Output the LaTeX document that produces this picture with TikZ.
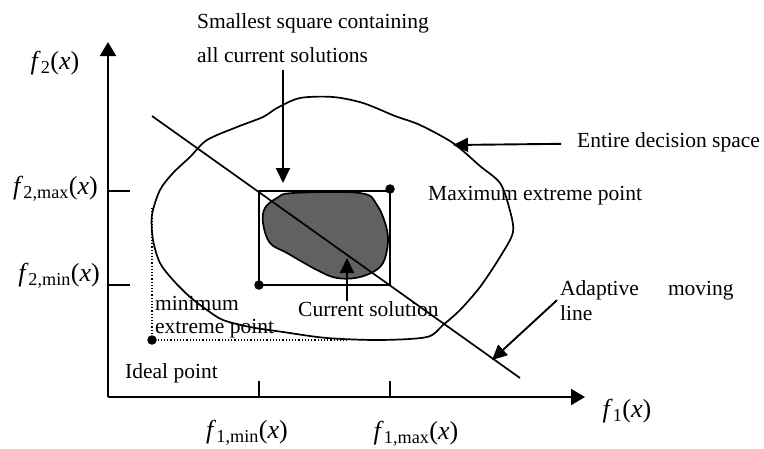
\documentclass[tikz,border=0pt]{standalone}
\usepackage{fontspec}
\setmainfont{Liberation Serif}
\usetikzlibrary{arrows.meta}
\usetikzlibrary{positioning}
\definecolor{blob}{rgb}{0.38,0.38,0.38}
\tikzstyle{lbl}=[inner sep=0pt, anchor=base west, align=left,
font=\fontsize{21.5}{34}\selectfont]
\tikzstyle{fun}=[inner sep=0pt, font=\fontsize{26}{30}\selectfont]
\tikzstyle{myarrow}=[-{Triangle[length=15pt,width=14pt]}, line width=1.9pt]
\tikzstyle{axis}=[-{Triangle[length=14pt,width=16pt]}, line width=2pt]
\tikzstyle{curve}=[line width=1.7pt, line join=round]
\tikzstyle{dot}=[circle, fill, inner sep=0pt, minimum size=9.5pt]
\newcommand{\fx}[1]{\textit{f}\textsubscript{#1}(\textit{x})}

\begin{document}
\begin{tikzpicture}[x=1pt, y=-1pt]
    \useasboundingbox (0,0) rectangle (764,448);

    % axes and ticks
    \draw[axis] (108,397) -- (108,42);
    \draw[axis] (108,397) -- (585,397);
    \draw[curve] (108,191) -- (130,191);
    \draw[curve] (108,285) -- (130,285);
    \draw[curve] (259,397) -- (259,381);
    \draw[curve] (390,397) -- (390,381);

    \node[fun] (f2) at (55,63) {\fx{2}};
    \node[fun, anchor=east] (f2max) at (98,189) {\fx{2,max}};
    \node[fun, anchor=east] (f2min) at (100,276) {\fx{2,min}};
    \node[fun] (f1min) at (247,433) {\fx{1,min}};
    \node[fun] (f1max) at (416,434) {\fx{1,max}};
    \node[fun] (f1) at (627,411) {\fx{1}};

    % entire decision space
    \draw[curve] plot[smooth cycle] coordinates {
        (333,97) (363,103) (395,116) (420,125) (453,143) (480,166)
        (500,183) (509,207) (513,232) (500,257) (480,287) (460,310)
        (443,325) (427,337) (380,340) (327,338) (283,332) (250,327)
        (223,320) (207,310) (190,297) (173,280) (160,263) (153,240)
        (152,215) (160,190) (173,173) (190,157) (207,140) (237,127)
        (263,117) (277,108) (300,98)};

    % current solutions
    \draw[curve, fill=blob] plot[smooth cycle, tension=0.6] coordinates {
        (293,193) (360,193) (377,205) (387,230) (387,250) (380,267)
        (360,277) (337,278) (317,270) (287,253) (270,243) (263,223)
        (265,208) (277,198)};
    \draw[curve] (259,191) rectangle (390,285);

    \draw[curve] (152,116) -- (520,378);

    \draw[dotted, line width=1.2pt] (152,208) -- (152,340) -- (347,340);
    \node[dot] (ideal) at (152,340) {};
    \node[dot] (minext) at (259,285) {};
    \node[dot] (maxext) at (390,189) {};

    % labels
    \node[lbl] (sq) at (197,62) {Smallest square containing\\all current solutions};
    \coordinate (sqtip) at (283,183);
    \draw[myarrow] (283,70) -- (sqtip);

    \node[lbl] (ent) at (577,147) {Entire decision space};
    \coordinate (enttip) at (453,145);
    \draw[myarrow] ([xshift=-16pt, yshift=-2pt]ent.west) -- (enttip);

    \node[lbl] (maxp) at (428,200) {Maximum extreme point};

    \node[lbl] (cur) at (298,316) {Current solution};
    \coordinate (curtip) at (347,258);
    \draw[myarrow] (cur.north -| curtip) -- (curtip);

    \node[lbl, font=\fontsize{21.5}{23}\selectfont] (minp) at (155,333) {minimum\\extreme point};
    \node[lbl] (idl) at (125,378) {Ideal point};

    \node[lbl, font=\fontsize{21.5}{25}\selectfont] (adapt) at (560,320) {Adaptive\hspace{29pt}moving\\line};
    \coordinate (adtip) at (492,360);
    \draw[myarrow] ([xshift=-3pt]adapt.west) -- (adtip);

\end{tikzpicture}
\end{document}
